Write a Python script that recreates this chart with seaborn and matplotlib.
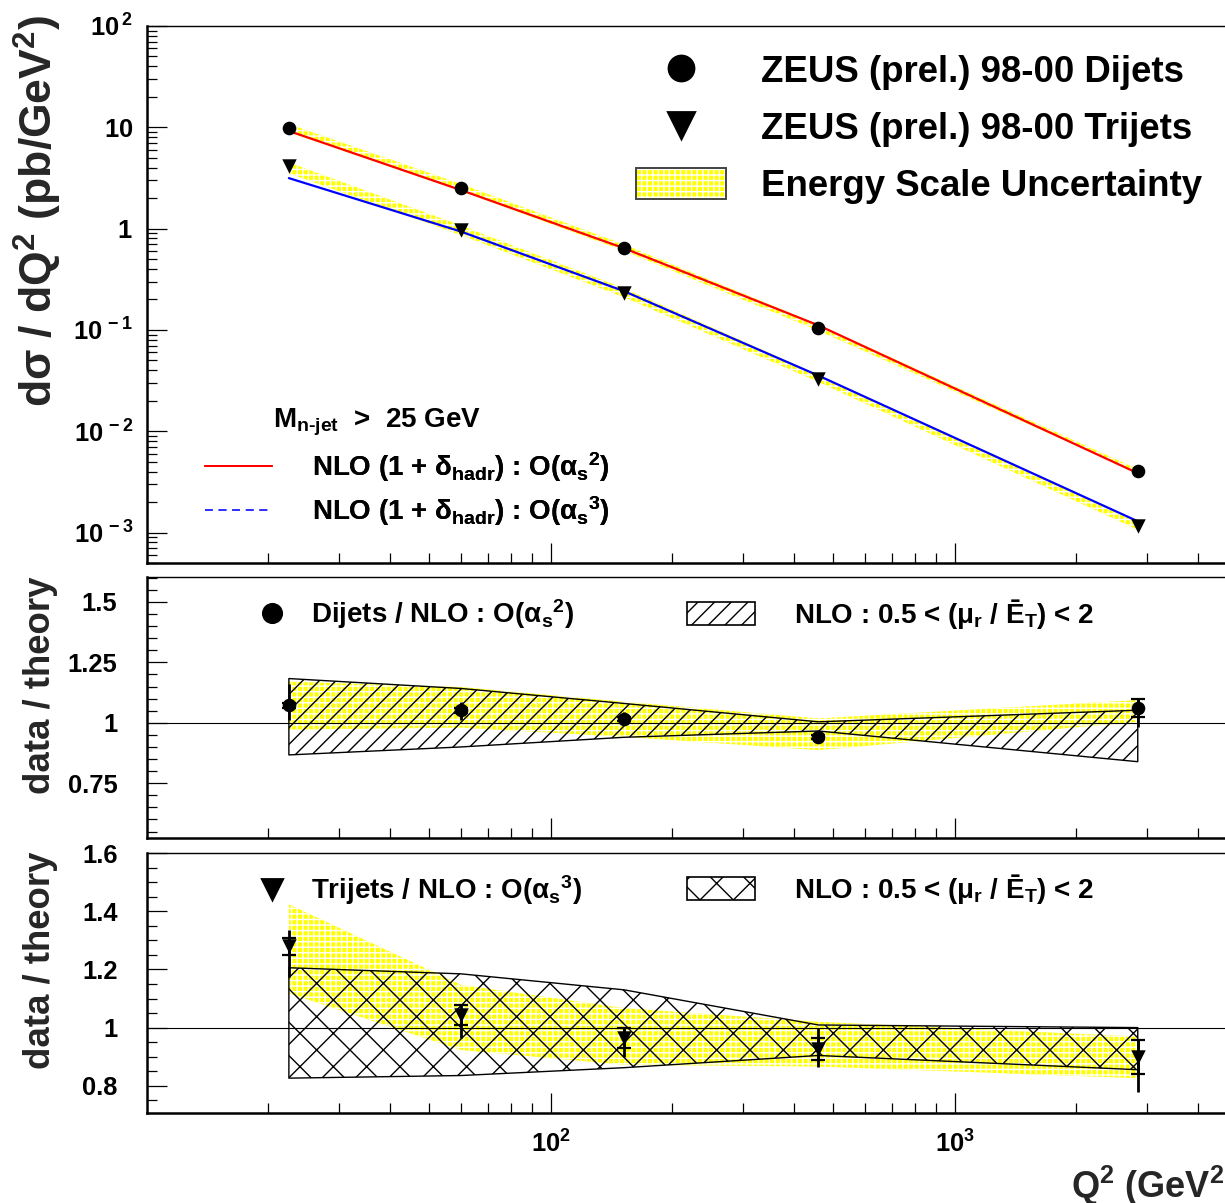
import numpy as np
import matplotlib
matplotlib.use("Agg")
import matplotlib.pyplot as plt
from matplotlib.lines import Line2D
from matplotlib.patches import Patch
from matplotlib.ticker import (FixedLocator, FuncFormatter, LogLocator,
                               MultipleLocator, NullFormatter)
import seaborn as sns

# ---------------------------------------------------------------- data
# Q^2 bin centres (GeV^2)
q2 = [22.5, 60.0, 152.0, 460.0, 2840.0]

# measured cross sections dsigma/dQ^2 (pb/GeV^2)
dijet_xs = [9.86, 2.52, 0.650, 0.1047, 0.00402]
trijet_xs = [4.12, 0.975, 0.232, 0.0328, 0.00115]

# NLO x (1 + delta_hadr) predictions (pb/GeV^2)
nlo_dijet = [9.19, 2.40, 0.640, 0.111, 0.00385]
nlo_trijet = [3.15, 0.935, 0.241, 0.0354, 0.00129]

# data / theory with statistical and total uncertainties
dijet_ratio = [1.073, 1.052, 1.015, 0.942, 1.060]
dijet_stat = [0.010, 0.010, 0.008, 0.008, 0.037]
dijet_tot_lo = [0.062, 0.041, 0.025, 0.015, 0.076]
dijet_tot_hi = [0.086, 0.034, 0.030, 0.015, 0.040]

trijet_ratio = [1.280, 1.044, 0.963, 0.927, 0.898]
trijet_stat = [0.030, 0.035, 0.034, 0.038, 0.059]
trijet_tot_lo = [0.105, 0.080, 0.063, 0.061, 0.118]
trijet_tot_hi = [0.056, 0.023, 0.037, 0.071, 0.060]

# jet energy-scale uncertainty band (in units of data / theory)
dijet_es_lo = [0.972, 0.980, 0.942, 0.887, 1.004]
dijet_es_hi = [1.170, 1.148, 1.087, 1.018, 1.094]
trijet_es_lo = [1.118, 0.923, 0.872, 0.866, 0.826]
trijet_es_hi = [1.424, 1.147, 1.067, 1.020, 0.969]

# NLO renormalisation-scale variation, 0.5 < mu_r / E_T < 2 (ratio units)
dijet_mu_lo = [0.867, 0.900, 0.940, 0.966, 0.839]
dijet_mu_hi = [1.183, 1.142, 1.080, 1.004, 1.052]
trijet_mu_lo = [0.826, 0.835, 0.862, 0.904, 0.855]
trijet_mu_hi = [1.206, 1.185, 1.130, 1.009, 1.000]

# ---------------------------------------------------------------- style
sns.set_theme(style="ticks")
plt.rcParams.update({
    "font.family": ["Liberation Sans", "DejaVu Sans"],
    "font.weight": "bold",
    "axes.labelweight": "bold",
    "mathtext.fontset": "custom",
    "mathtext.rm": "Liberation Sans:bold",
    "mathtext.it": "Liberation Sans:bold",
    "mathtext.bf": "Liberation Sans:bold",
    "mathtext.default": "regular",
    "hatch.linewidth": 0.5,
    "axes.edgecolor": "black",
    "text.color": "black",
    "xtick.color": "black",
    "ytick.color": "black",
})

YEL = "#ffff00"
GRID = "++++++"
TICK_FS = 9.2

DPI = 200
W_PX, H_PX = 1225, 1203
fig = plt.figure(figsize=(W_PX / DPI, H_PX / DPI), dpi=DPI, facecolor="white")

AX_L, AX_R = 146.6, 1237.0          # pixel extent of the frames (x = 10 ... 5000)
AX_W = AX_R - AX_L


def add_panel(top, bottom):
    return fig.add_axes([AX_L / W_PX, 1 - bottom / H_PX,
                         AX_W / W_PX, (bottom - top) / H_PX])


ax1 = add_panel(26.0, 563.0)
ax2 = add_panel(577.3, 838.3)
ax3 = add_panel(852.7, 1113.3)


def fx(px):
    return (px - AX_L) / AX_W


for ax in (ax1, ax2, ax3):
    ax.set_xscale("log")
    ax.set_xlim(10, 5000)
    ax.xaxis.set_major_locator(FixedLocator([100, 1000]))
    ax.xaxis.set_minor_locator(LogLocator(base=10, subs=np.arange(2, 10)))
    ax.xaxis.set_minor_formatter(NullFormatter())
    ax.tick_params(which="both", direction="in", top=False, right=False,
                   width=0.45, labelsize=TICK_FS)
    ax.tick_params(which="major", length=7.2)
    ax.tick_params(which="minor", length=3.6)
    for side in ("left", "bottom"):
        ax.spines[side].set_linewidth(0.9)
    ax.spines["top"].set_linewidth(0.5)
    ax.spines["right"].set_linewidth(0.5)
    ax.set_facecolor("white")

ax1.tick_params(axis="x", labelbottom=False)
ax2.tick_params(axis="x", labelbottom=False)

# ---------------------------------------------------------------- top panel
ax1.set_yscale("log")
ax1.set_ylim(5e-4, 100)

ax1.fill_between(q2, np.multiply(nlo_dijet, dijet_es_lo),
                 np.multiply(nlo_dijet, dijet_es_hi),
                 facecolor=YEL, edgecolor="white", hatch=GRID, lw=0, zorder=1)
ax1.fill_between(q2, np.multiply(nlo_trijet, trijet_es_lo),
                 np.multiply(nlo_trijet, trijet_es_hi),
                 facecolor=YEL, edgecolor="white", hatch=GRID, lw=0, zorder=1)

sns.lineplot(x=q2, y=nlo_dijet, color="#ff0000", lw=0.8, ax=ax1,
             legend=False, zorder=3)
sns.lineplot(x=q2, y=nlo_trijet, color="#0000ff", lw=0.8, ax=ax1,
             legend=False, zorder=3)
sns.scatterplot(x=q2, y=dijet_xs, marker="o", s=24, color="black",
                linewidth=0, ax=ax1, legend=False, zorder=5)
sns.scatterplot(x=q2, y=trijet_xs, marker="v", s=27, color="black",
                linewidth=0, ax=ax1, legend=False, zorder=5)

ax1.yaxis.set_major_locator(LogLocator(base=10))
ax1.yaxis.set_minor_locator(LogLocator(base=10, subs=np.arange(2, 10)))
ax1.yaxis.set_minor_formatter(NullFormatter())


def decade_label(v, pos):
    e = int(round(np.log10(v)))
    if e == 0:
        return r"1$^{\quad}$"
    if e == 1:
        return r"10$^{\quad}$"
    return r"10$^{\,%d}$" % e


ax1.yaxis.set_major_formatter(FuncFormatter(decade_label))
ax1.tick_params(axis="y", which="major", pad=4.9)

ax1.set_ylabel("dσ / dQ$^2$ (pb/GeV$^2$)", fontsize=16, fontweight="bold",
               loc="top")
ax1.yaxis.set_label_coords(fx(64), (563 - 15) / 537)

h_dijet = Line2D([], [], ls="none", marker="o", ms=9, color="black")
h_trijet = Line2D([], [], ls="none", marker="v", ms=9.5, color="black")
h_es = (Patch(facecolor=YEL, edgecolor="white", hatch=GRID, lw=0),
        Patch(facecolor="none", edgecolor="#444444", lw=0.7))
leg1 = ax1.legend(handles=[h_dijet, h_trijet, h_es],
                  labels=["ZEUS (prel.) 98-00 Dijets",
                          "ZEUS (prel.) 98-00 Trijets",
                          "Energy Scale Uncertainty"],
                  loc="upper left", bbox_to_anchor=(fx(636), (563 - 54) / 537),
                  frameon=False, fontsize=13.2, handlelength=2.445,
                  handleheight=0.9, handletextpad=0.96, labelspacing=0.58,
                  borderpad=0, borderaxespad=0)
ax1.add_artist(leg1)

h_red = Line2D([], [], color="#ff0000", lw=0.7)
h_blue = Line2D([], [], color="#3333ff", lw=0.7, ls=(0, (4, 3)))
leg2 = ax1.legend(handles=[h_red, h_blue],
                  labels=["NLO (1 + δ$_{hadr}$) : O(α$_s$$^2$)",
                          "NLO (1 + δ$_{hadr}$) : O(α$_s$$^3$)"],
                  loc="upper left", bbox_to_anchor=(fx(205), (563 - 450) / 537),
                  frameon=False, fontsize=10, handlelength=2.42,
                  handletextpad=1.45, labelspacing=0.37,
                  borderpad=0, borderaxespad=0)
ax1.add_artist(leg2)

ax1.text(fx(273.3), (563 - 427) / 537, "M$_{n\u2010jet}$  >  25 GeV",
         fontsize=10, va="baseline", ha="left", transform=ax1.transAxes)


# ---------------------------------------------------------------- ratio panels
def ratio_panel(ax, ratio, stat, tot_lo, tot_hi, es_lo, es_hi, mu_lo, mu_hi,
                hatch, marker, msize):
    ax.fill_between(q2, es_lo, es_hi, facecolor=YEL, edgecolor="white",
                    hatch=GRID, lw=0, zorder=1)
    ax.fill_between(q2, mu_lo, mu_hi, facecolor="none", edgecolor="black",
                    hatch=hatch, lw=0.5, zorder=2)
    ax.axhline(1.0, color="black", lw=0.4, zorder=2)
    ax.errorbar(q2, ratio, yerr=[tot_lo, tot_hi], fmt="none", ecolor="black",
                elinewidth=1.0, capsize=0, zorder=4)
    ax.errorbar(q2, ratio, yerr=stat, fmt="none", ecolor="black",
                elinewidth=1.0, capsize=2.5, capthick=0.8, zorder=4)
    sns.scatterplot(x=q2, y=ratio, marker=marker, s=msize, color="black",
                    linewidth=0, ax=ax, legend=False, zorder=5)
    ax.yaxis.set_major_formatter(FuncFormatter(lambda v, p: "%g" % v))
    ax.yaxis.set_minor_locator(MultipleLocator(0.05))
    ax.tick_params(axis="y", which="major", pad=10.5)


ratio_panel(ax2, dijet_ratio, dijet_stat, dijet_tot_lo, dijet_tot_hi,
            dijet_es_lo, dijet_es_hi, dijet_mu_lo, dijet_mu_hi, "////", "o", 24)
ax2.set_ylim(0.522, 1.602)
ax2.yaxis.set_major_locator(FixedLocator([0.75, 1.0, 1.25, 1.5]))

ratio_panel(ax3, trijet_ratio, trijet_stat, trijet_tot_lo, trijet_tot_hi,
            trijet_es_lo, trijet_es_hi, trijet_mu_lo, trijet_mu_hi, "xx", "v", 27)
ax3.set_ylim(0.705, 1.602)
ax3.yaxis.set_major_locator(FixedLocator([0.8, 1.0, 1.2, 1.4, 1.6]))

for ax, top, bottom in ((ax2, 577.3, 838.3), (ax3, 852.7, 1113.3)):
    ax.set_ylabel("data / theory", fontsize=13.2, fontweight="bold", loc="top")
    ax.yaxis.set_label_coords(fx(58), (bottom - top + 1) / (bottom - top))

# panel legends
leg_d = ax2.legend(handles=[Line2D([], [], ls="none", marker="o", ms=6.6,
                                   color="black")],
                   labels=["Dijets / NLO : O(α$_s$$^2$)"],
                   loc="center left", bbox_to_anchor=(fx(258.2), (838.3 - 614) / 261),
                   frameon=False, fontsize=10, handlelength=1.0,
                   handletextpad=0.91, borderpad=0, borderaxespad=0)
ax2.add_artist(leg_d)
ax2.legend(handles=[Patch(facecolor="none", edgecolor="black", hatch="////", lw=0.6)],
           labels=["NLO : 0.5 < (μ$_r$ / Ē$_T$) < 2"],
           loc="center left", bbox_to_anchor=(fx(686.6), (838.3 - 614) / 261),
           frameon=False, fontsize=10, handlelength=2.48, handleheight=0.906,
           handletextpad=1.40, borderpad=0, borderaxespad=0)

leg_t = ax3.legend(handles=[Line2D([], [], ls="none", marker="v", ms=7,
                                   color="black")],
                   labels=["Trijets / NLO : O(α$_s$$^3$)"],
                   loc="center left", bbox_to_anchor=(fx(258.2), (1113.3 - 890) / 260.6),
                   frameon=False, fontsize=10, handlelength=1.0,
                   handletextpad=0.91, borderpad=0, borderaxespad=0)
ax3.add_artist(leg_t)
ax3.legend(handles=[Patch(facecolor="none", edgecolor="black", hatch="xx", lw=0.6)],
           labels=["NLO : 0.5 < (μ$_r$ / Ē$_T$) < 2"],
           loc="center left", bbox_to_anchor=(fx(686.6), (1113.3 - 889) / 260.6),
           frameon=False, fontsize=10, handlelength=2.48, handleheight=0.906,
           handletextpad=1.40, borderpad=0, borderaxespad=0)

# x axis labels on the bottom panel
ax3.xaxis.set_major_formatter(
    FuncFormatter(lambda v, p: r"10$^{%d}$" % int(round(np.log10(v)))))
ax3.tick_params(axis="x", which="major", pad=6)
ax3.set_xlabel("Q$^2$ (GeV$^2$)", fontsize=13, fontweight="bold", loc="right")
ax3.xaxis.set_label_coords(1.0, (1113.3 - 1164) / 260.6)

fig.savefig("out.png", dpi=DPI, facecolor="white")
